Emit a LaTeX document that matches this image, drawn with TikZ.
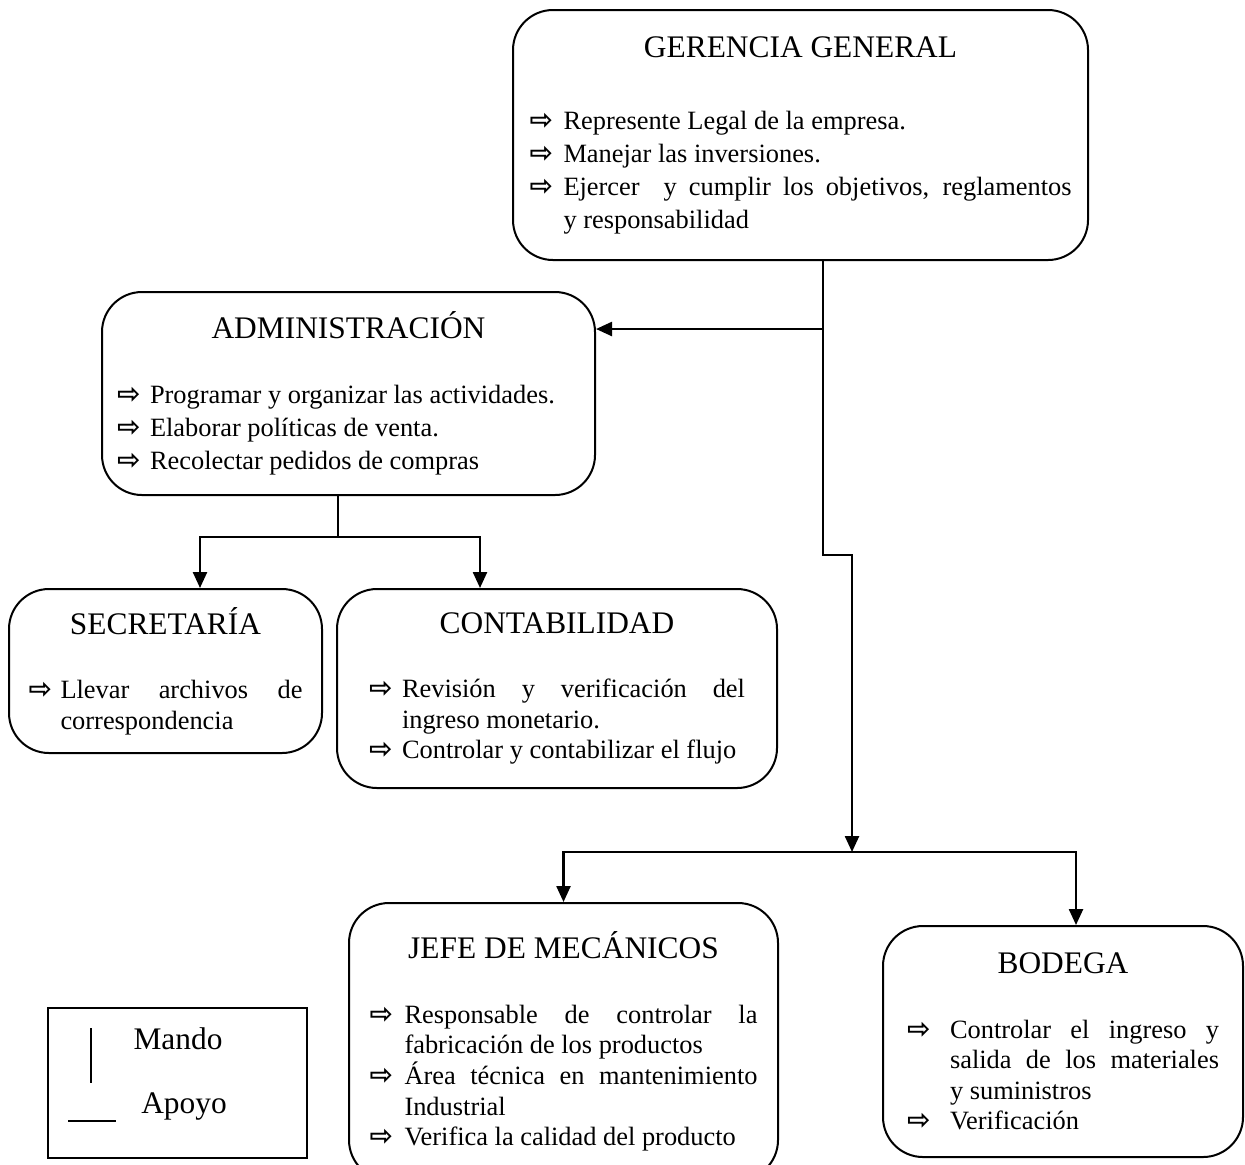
\documentclass[tikz,border=0pt]{standalone}
\usepackage{fontspec}
\setmainfont{Liberation Serif}
\newfontfamily\symfont{DejaVu Sans}
\usetikzlibrary{positioning}
\usetikzlibrary{arrows.meta}

\setlength{\parindent}{0pt}
\newlength{\bulind}
\newcommand{\bul}{{\fontsize{14}{14}\symfont\bfseries ⇨}}
\newcommand{\boxhead}[2][17pt]{{\centering\fontsize{15.7}{18}\selectfont #2\par}\vspace{#1}}
\newcommand{\itm}[1]{\par\noindent\hangindent=\bulind\hangafter=1\makebox[\bulind][l]{\bul}#1\par}

\tikzset{
  orgbox/.style={draw,line width=1pt,rounded corners=20pt,align=justify,inner sep=0pt,
    font=\fontsize{13.2}{15.3}\selectfont},
  widebox/.style={orgbox,font=\fontsize{13.2}{16.5}\selectfont},
  legendtext/.style={font=\fontsize{15.7}{18}\selectfont},
  link/.style={line width=1.2pt},
  linkarrow/.style={line width=1.2pt,-{Triangle[length=8pt,width=7pt]}},
}

\begin{document}
\begin{tikzpicture}[x=0.5pt,y=-0.5pt]
  \useasboundingbox (0,0) rectangle (1245,1164);

  \node at (800.5,135) [widebox,minimum width=287.5pt,minimum height=125pt,text width=271pt] (gerencia) {
    \setlength{\bulind}{17pt}%
    \boxhead[19.5pt]{GERENCIA GENERAL}
    \itm{Represente Legal de la empresa.}
    \itm{Manejar las inversiones.}
    \itm{Ejercer\ \ y cumplir los objetivos, reglamentos\linebreak y responsabilidad}
  };

  \node at (348.5,393.5) [widebox,minimum width=246.5pt,minimum height=101.5pt,text width=231.5pt] (admin) {
    \setlength{\bulind}{16.5pt}%
    \boxhead[16pt]{ADMINISTRACIÓN}
    \itm{Programar y organizar las actividades.}
    \itm{Elaborar políticas de venta.}
    \itm{Recolectar pedidos de compras}
  };

  \node at (165.5,671) [orgbox,minimum width=156.5pt,minimum height=82pt,text width=137pt] (secretaria) {
    \setlength{\bulind}{16pt}%
    \boxhead{SECRETARÍA}
    \itm{Llevar archivos de\linebreak correspondencia}
  };

  \node at (557,688.5) [orgbox,minimum width=220pt,minimum height=99.5pt,text width=188pt] (contabilidad) {
    \setlength{\bulind}{16.5pt}%
    \boxhead{CONTABILIDAD}
    \itm{Revisión y verificación del\linebreak ingreso monetario.}
    \itm{Controlar y contabilizar el flujo}
  };

  \node at (563.5,1041.5) [orgbox,minimum width=214.5pt,minimum height=138.5pt,text width=194pt] (jefe) {
    \setlength{\bulind}{17.5pt}%
    \boxhead{JEFE DE MECÁNICOS}
    \itm{Responsable de controlar la\linebreak fabricación de los productos}
    \itm{Área técnica en mantenimiento\linebreak Industrial}
    \itm{Verifica la calidad del producto}
  };

  \node at (1063,1041.5) [orgbox,minimum width=180pt,minimum height=115.5pt,text width=156pt] (bodega) {
    \setlength{\bulind}{21.5pt}%
    \boxhead{BODEGA}
    \itm{Controlar el ingreso y\linebreak salida de los materiales\linebreak y suministros}
    \itm{Verificación}
  };

  % legend
  \node at (177.5,1083) [draw,line width=0.8pt,minimum width=129.5pt,minimum height=75pt] (legend) {};
  \node at (178,1039) [legendtext] (mando) {Mando};
  \node at (184,1106) [legendtext] (apoyo) {Apoyo};
  \draw[line width=0.8pt] (91,1028) -- (91,1083);
  \draw[line width=0.8pt] (68,1121) -- (116,1121);

  % connectors
  \coordinate (split) at (823,329);
  \coordinate (bend) at (823,555);
  \coordinate (bus) at (852,852);
  \coordinate (admbus) at (338,537);

  \draw[linkarrow] (gerencia.south -| split) -- (bend) -| (bus);
  \draw[linkarrow] (split) -- (split -| admin.east);
  \draw[linkarrow] (bus) -| (jefe.north);
  \draw[linkarrow] (bus) -| (bodega.north -| 1076,0);

  \draw[link] (admin.south -| admbus) -- (admbus);
  \draw[linkarrow] (admbus) -| (secretaria.north -| 200,0);
  \draw[linkarrow] (admbus) -| (contabilidad.north -| 480,0);
\end{tikzpicture}
\end{document}
